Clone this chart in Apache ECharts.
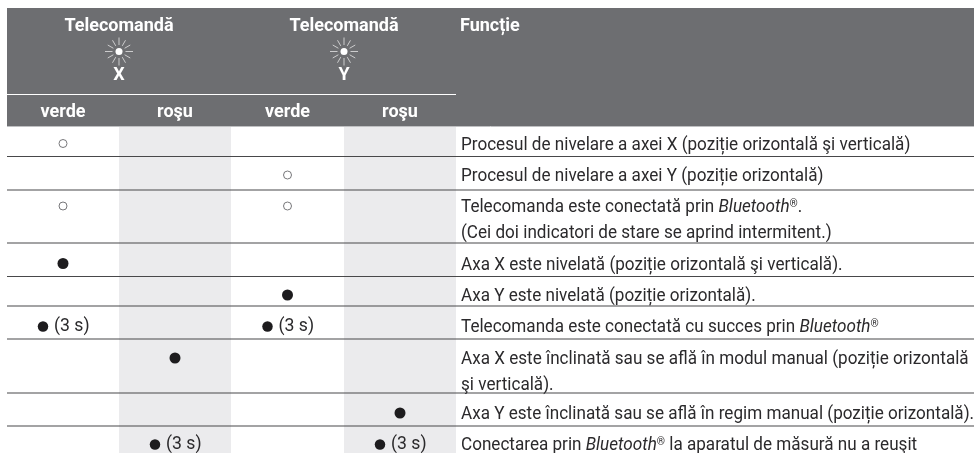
<!DOCTYPE html>
<html>
<head>
<meta charset="utf-8">
<style>html,body{margin:0;padding:0;background:#fff}#chart{width:974px;height:453px}</style>
<script src="https://cdn.jsdelivr.net/npm/echarts@6/dist/echarts.min.js"></script>
</head>
<body>
<div id="chart"></div>
<script>
// table content
const groupTitles = ['Telecomandă', 'Telecomandă']
const groupAxes = ['X', 'Y']
const colLabels = ['verde', 'roşu', 'verde', 'roşu']
const functionTitle = 'Funcție'
const functionLines = [
  ['Procesul de nivelare a axei X (poziție orizontală şi verticală)'],
  ['Procesul de nivelare a axei Y (poziție orizontală)'],
  ['Telecomanda este conectată prin {i|Bluetooth}{s|®}.', '(Cei doi indicatori de stare se aprind intermitent.)'],
  ['Axa X este nivelată (poziție orizontală şi verticală).'],
  ['Axa Y este nivelată (poziție orizontală).'],
  ['Telecomanda este conectată cu succes prin {i|Bluetooth}{s|®}'],
  ['Axa X este înclinată sau se află în modul manual (poziție orizontală', 'şi verticală).'],
  ['Axa Y este înclinată sau se află în regim manual (poziție orizontală).'],
  ['Conectarea prin {i|Bluetooth}{s|®} la aparatul de măsură nu a reuşit']
]
// [row, column]
const blinkMarks = [[0, 0], [1, 2], [2, 0], [2, 2]]
const solidMarks = [[3, 0], [4, 2], [6, 1], [7, 3]]
const timedMarks = [[5, 0], [5, 2], [8, 1], [8, 3]]
const timedLabel = '(3 s)'

// layout in page pixels
const colEdges = [7, 119, 231, 344, 456, 974]
const rowEdges = [126, 156.5, 190, 243, 276.5, 306, 339, 393, 426, 453]
const rowMid = [143.5, 175, 206, 263.5, 295, 326, 358, 413, 444]
const rayAngles = [0, 30, 60, 90, 120, 150, 180, 210, 240, 270, 300, 330]

const FONT = 'Roboto, "Liberation Sans", sans-serif'
const DARK = '#2b2a2c'
const HEADER = '#6d6e71'
const STRIPE = '#ebebed'
const BODY_SCALE = 0.95
const HEAD_SCALE = 1
const TIMED_SCALE = 0.98
const colMid = (c) => (colEdges[c] + colEdges[c + 1]) / 2

const rich = {
  i: { fontStyle: 'italic', fontFamily: FONT, fontSize: 18, fill: DARK },
  s: { fontFamily: FONT, fontSize: 11, fill: DARK, verticalAlign: 'top', padding: [0, 0, 5, 0] }
}

function textEl(api, x, y, text, style, scale) {
  const p = api.coord([x, y])
  return { type: 'text', x: p[0], y: p[1], scaleX: scale, style: { text, fontFamily: FONT, ...style } }
}

function renderHeader(params, api) {
  const kids = []
  const a = api.coord([colEdges[0], 8])
  const b = api.coord([colEdges[5], 126])
  kids.push({ type: 'rect', shape: { x: a[0], y: a[1], width: b[0] - a[0], height: b[1] - a[1] }, style: { fill: HEADER } })
  const r1 = api.coord([colEdges[0], 94.5])
  const r2 = api.coord([colEdges[4], 94.5])
  kids.push({ type: 'line', shape: { x1: r1[0], y1: r1[1], x2: r2[0], y2: r2[1] }, style: { stroke: '#fff', lineWidth: 1.2 } })
  const headStyle = { fill: '#fff', fontWeight: 'bold', fontSize: 18, align: 'center', verticalAlign: 'middle' }
  groupTitles.forEach((t, g) => {
    const cx = colEdges[g * 2 + 1]
    kids.push(textEl(api, cx, 26.5, t, headStyle, HEAD_SCALE))
    kids.push(textEl(api, cx, 75.5, groupAxes[g], headStyle, HEAD_SCALE))
    const c = api.coord([cx, 51.5])
    kids.push({ type: 'circle', shape: { cx: c[0], cy: c[1], r: 3.5 }, style: { fill: '#fff' } })
    rayAngles.forEach((deg) => {
      const t0 = (deg * Math.PI) / 180
      const long = deg % 90 === 0 ? 14 : 13
      kids.push({
        type: 'line',
        shape: { x1: c[0] + 6.5 * Math.cos(t0), y1: c[1] + 6.5 * Math.sin(t0), x2: c[0] + long * Math.cos(t0), y2: c[1] + long * Math.sin(t0) },
        style: { stroke: '#e4e4e5', lineWidth: 0.8 }
      })
    })
  })
  colLabels.forEach((t, c) => kids.push(textEl(api, colMid(c), 112.5, t, headStyle, HEAD_SCALE)))
  kids.push(textEl(api, 460, 26.5, functionTitle, { ...headStyle, align: 'left' }, HEAD_SCALE))
  const s1 = api.coord([colEdges[0], 126.5])
  const s2 = api.coord([colEdges[5], 126.5])
  kids.push({ type: 'line', shape: { x1: s1[0], y1: s1[1], x2: s2[0], y2: s2[1] }, style: { stroke: '#bfc0c2', lineWidth: 1 } })
  return { type: 'group', children: kids }
}

function renderBody(params, api) {
  const kids = []
  ;[1, 3].forEach((c) => {
    const a = api.coord([colEdges[c], rowEdges[0] + 1])
    const b = api.coord([colEdges[c + 1], rowEdges[rowEdges.length - 1]])
    kids.push({ type: 'rect', shape: { x: a[0], y: a[1], width: b[0] - a[0], height: b[1] - a[1] }, style: { fill: STRIPE } })
  })
  rowEdges.slice(1, -1).forEach((y) => {
    const l = api.coord([colEdges[0], y])
    const r = api.coord([colEdges[5], y])
    kids.push({ type: 'line', shape: { x1: l[0], y1: l[1], x2: r[0], y2: r[1] }, style: { stroke: '#48484a', lineWidth: 1.2 } })
  })
  return { type: 'group', children: kids }
}

const textRows = []
functionLines.forEach((lines, r) => {
  lines.forEach((t, k) => textRows.push({ x: 461, y: rowMid[r] + 1.5 + k * 26, text: t }))
})

function renderFunctionText(params, api) {
  const row = textRows[params.dataIndex]
  return textEl(api, row.x, row.y, row.text, { fill: DARK, fontSize: 18, align: 'left', verticalAlign: 'middle', rich }, BODY_SCALE)
}

function renderTimedLabel(params, api) {
  const [r, c] = timedMarks[params.dataIndex]
  return textEl(api, colMid(c) - 9, rowMid[r], timedLabel, { fill: DARK, fontSize: 18, align: 'left', verticalAlign: 'middle' }, TIMED_SCALE)
}

const option = {
  animation: false,
  grid: { left: 0, right: 0, top: 0, bottom: 0 },
  xAxis: { type: 'value', min: 0, max: 974, show: false },
  yAxis: { type: 'value', min: 0, max: 453, inverse: true, show: false },
  series: [
    { type: 'custom', silent: true, clip: false, z: 1, renderItem: renderHeader, data: [[0, 0]] },
    { type: 'custom', silent: true, clip: false, z: 1, renderItem: renderBody, data: [[0, 0]] },
    {
      type: 'custom', silent: true, clip: false, z: 3, renderItem: renderFunctionText,
      data: textRows.map((t) => [t.x, t.y])
    },
    {
      type: 'custom', silent: true, clip: false, z: 3, renderItem: renderTimedLabel,
      data: timedMarks.map(([r, c]) => [colMid(c), rowMid[r]])
    },
    {
      type: 'scatter', silent: true, z: 3, symbol: 'circle', symbolSize: 8,
      itemStyle: { color: '#fff', borderColor: '#77777a', borderWidth: 1, opacity: 1 },
      data: blinkMarks.map(([r, c]) => [colMid(c), rowMid[r]])
    },
    {
      type: 'scatter', silent: true, z: 3, symbol: 'circle', symbolSize: 11,
      itemStyle: { color: '#1d1c1e', opacity: 1 },
      data: solidMarks.map(([r, c]) => [colMid(c), rowMid[r]])
    },
    {
      type: 'scatter', silent: true, z: 3, symbol: 'circle', symbolSize: 10.5,
      itemStyle: { color: '#1d1c1e', opacity: 1 },
      data: timedMarks.map(([r, c]) => [colMid(c) - 20, rowMid[r] + 0.5])
    }
  ]
}

const chart = echarts.init(document.getElementById('chart'), null, { renderer: 'canvas' })
chart.setOption(option)
</script>
</body>
</html>
